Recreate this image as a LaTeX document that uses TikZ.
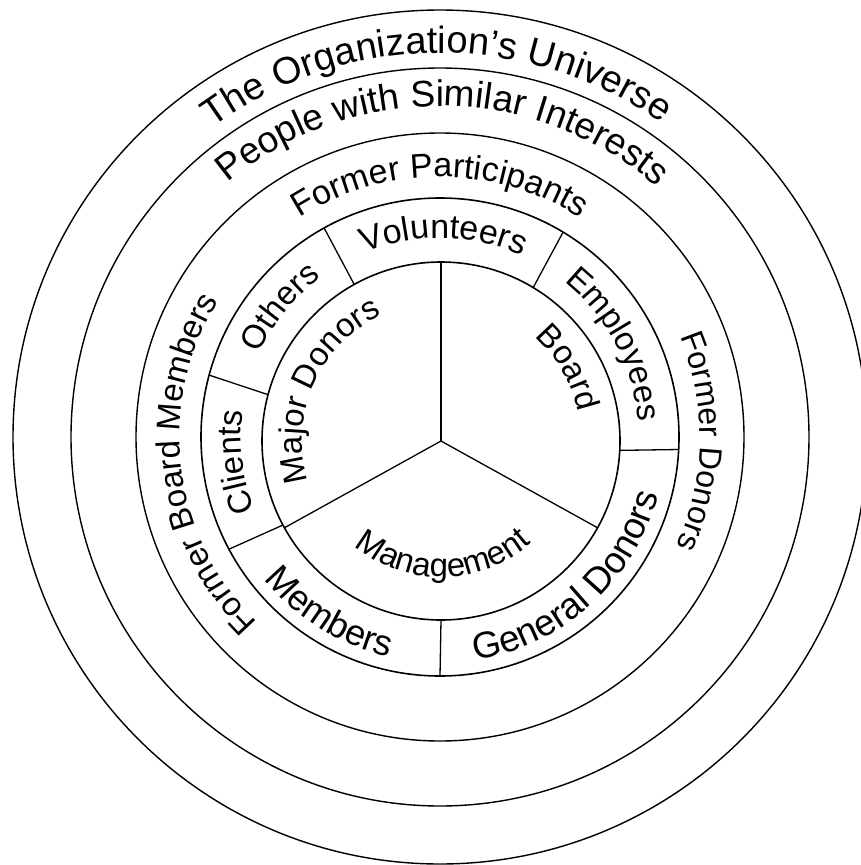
\documentclass[tikz,border=0pt]{standalone}
\usepackage{fontspec}
\setmainfont{Liberation Sans}
\usetikzlibrary{decorations.text}

% clockwise text (tops outward), centred at angle #3
\newcommand\cwtext[5]{%
  \pgfmathsetmacro\myStartA{#3+90}\pgfmathsetmacro\myEndA{#3-90}%
  \path[decorate,decoration={text along path,text align=center,
      text={|\fontsize{#4pt}{#4pt}\selectfont|#5}}]
    ([shift={(\myStartA:#2)}]#1) arc[start angle=\myStartA,end angle=\myEndA,radius=#2];}
% counter-clockwise text (tops inward), centred at angle #3
\newcommand\ccwtext[5]{%
  \pgfmathsetmacro\myStartA{#3-90}\pgfmathsetmacro\myEndA{#3+90}%
  \path[decorate,decoration={text along path,text align=center,
      text={|\fontsize{#4pt}{#4pt}\selectfont|#5}}]
    ([shift={(\myStartA:#2)}]#1) arc[start angle=\myStartA,end angle=\myEndA,radius=#2];}

\begin{document}
\begin{tikzpicture}[x=1pt,y=1pt,
  circ/.style={line width=1.4pt},
  inner circ/.style={line width=1.6pt},
  divider/.style={line width=1.3pt}]
\useasboundingbox (0,0) rectangle (860,-865);
\fill[white] (0,0) rectangle (860,-865);

\coordinate (Co) at (440,-437);
\coordinate (Ci) at (441,-441);

% circles
\draw[circ] (Co) circle[radius=427pt];
\draw[circ] (Co) circle[radius=369pt];
\draw[circ] (Co) circle[radius=304pt];
\draw[inner circ] (Co) circle[radius=239pt];
\draw[inner circ] (Ci) circle[radius=179pt];

% ring dividers
\foreach \a in {59,119,165,208,270,357}
  \draw[divider] ([shift={(\a:179pt)}]Ci) -- ([shift={(\a:239pt)}]Co);

% pie lines
\foreach \a in {90,209,331}
  \draw[divider] (Ci) -- ([shift={(\a:179pt)}]Ci);

% outer band texts
\cwtext{Co}{384pt}{90.5}{38}{The Organization’s Universe}
\cwtext{Co}{331pt}{89.5}{37}{People with Similar Interests}
\cwtext{Co}{260pt}{90}{34}{Former Participants}
\cwtext{Co}{260pt}{187}{33}{Former Board Members}
\cwtext{Co}{260pt}{-1}{32}{Former Donors}

% ring texts
\cwtext{Co}{199pt}{89}{34}{Volunteers}
\cwtext{Co}{199pt}{141}{33}{Others}
\cwtext{Co}{199pt}{187}{33}{Clients}
\cwtext{Co}{199pt}{28}{33}{Employees}
\ccwtext{Co}{226pt}{238}{36}{Members}
\ccwtext{Co}{226pt}{312}{37}{General Donors}

% inner pie texts
\cwtext{Ci}{139pt}{156}{33}{Major Donors}
\cwtext{Ci}{140pt}{30}{33}{Board}
\ccwtext{Ci}{136pt}{271}{33}{Management}
\end{tikzpicture}
\end{document}
